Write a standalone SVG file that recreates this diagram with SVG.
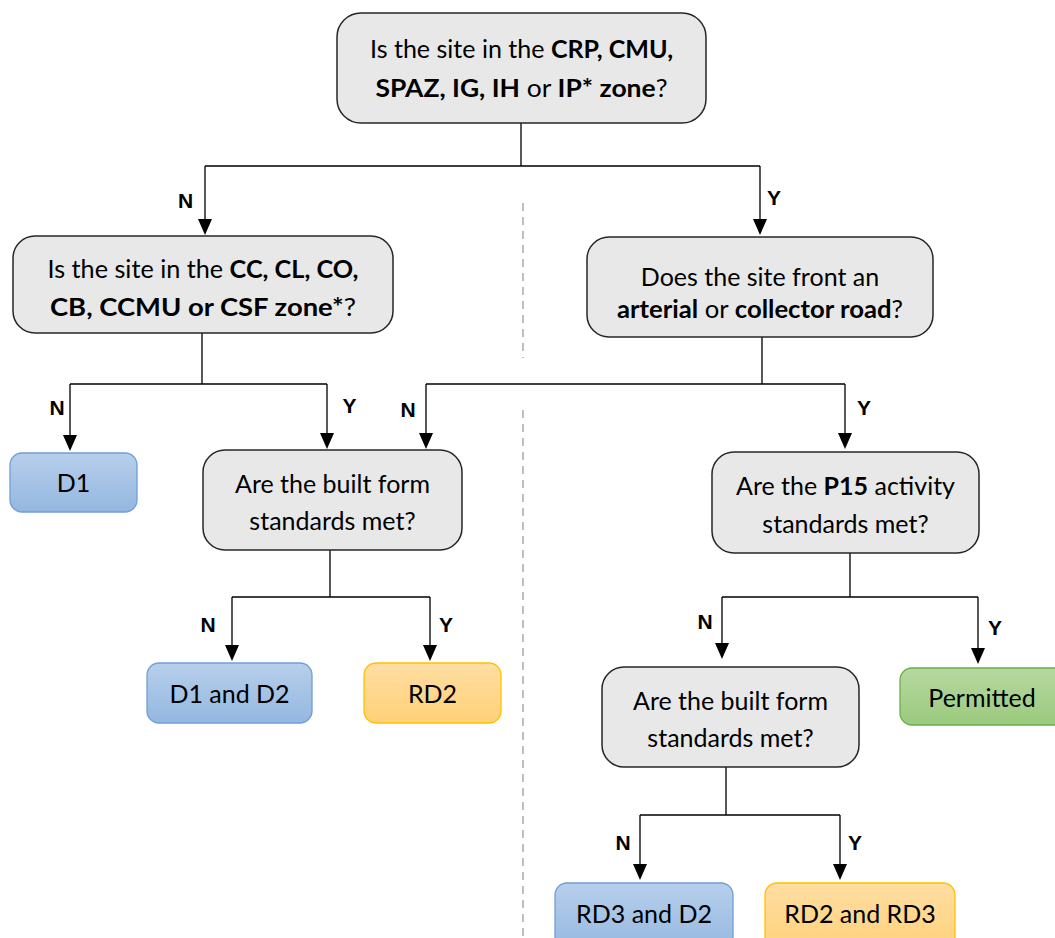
<svg xmlns="http://www.w3.org/2000/svg" width="1055" height="938" viewBox="0 0 1055 938">
<style>
.q{fill:#e8e8e8;stroke:#262626;stroke-width:1.5}
.b{fill:url(#gb);stroke:#6f9fd8;stroke-width:1.3}
.o{fill:url(#go);stroke:#ffc000;stroke-width:1.3}
.g{fill:url(#gg);stroke:#70ad47;stroke-width:1.3}
.t{font-family:Lato,"Open Sans",sans-serif;font-size:25px;fill:#000;text-anchor:middle}
.t tspan.k{font-weight:bold}
.l{font-family:"Liberation Sans",Arial,sans-serif;font-size:21px;font-weight:bold;fill:#000;text-anchor:middle}
.c{fill:none;stroke:#000;stroke-width:1.3}
.d{fill:none;stroke:#bfbfbf;stroke-width:2;stroke-dasharray:8 6}
</style>
<defs>
<linearGradient id="gb" x1="0" y1="0" x2="0" y2="1"><stop offset="0" stop-color="#b7cfeb"/><stop offset="1" stop-color="#94b7e0"/></linearGradient>
<linearGradient id="go" x1="0" y1="0" x2="0" y2="1"><stop offset="0" stop-color="#ffdea3"/><stop offset="1" stop-color="#ffd178"/></linearGradient>
<linearGradient id="gg" x1="0" y1="0" x2="0" y2="1"><stop offset="0" stop-color="#b6d8a0"/><stop offset="1" stop-color="#9bca7e"/></linearGradient>
<path id="tri" d="M-7,0 H7 L0,16 Z" fill="#000"/>
</defs>
<g id="divider">
<line class="d" x1="523" y1="203" x2="523" y2="358"/>
<line class="d" x1="523" y1="410" x2="523" y2="938"/>
</g>
<g id="connectors">
<path class="c" d="M521,123 V166 M205,166 H760"/>
<path class="c" d="M202,333 V384 M70,384 H327"/>
<path class="c" d="M762,337 V384 M426,384 H845"/>
<path class="c" d="M330,550 V597 M232,597 H430"/>
<path class="c" d="M850,553 V597 M722,597 H978"/>
<path class="c" d="M726,767 V815 M640,815 H840"/>
<path class="c" d="M205,166 V222 M760,166 V222 M70,384 V438 M327,384 V436 M426,384 V436 M845,384 V436 M232,597 V648 M430,597 V648 M722,597 V646 M978,597 V651 M640,815 V867 M840,815 V867"/>
<use href="#tri" x="205" y="219"/>
<use href="#tri" x="760" y="219"/>
<use href="#tri" x="70" y="435"/>
<use href="#tri" x="327" y="433"/>
<use href="#tri" x="426" y="433"/>
<use href="#tri" x="845" y="433"/>
<use href="#tri" x="232" y="645"/>
<use href="#tri" x="430" y="645"/>
<use href="#tri" x="722" y="643"/>
<use href="#tri" x="978" y="648"/>
<use href="#tri" x="640" y="864"/>
<use href="#tri" x="840" y="864"/>
<text class="l" x="185.5" y="208">N</text>
<text class="l" x="774" y="205">Y</text>
<text class="l" x="57" y="415">N</text>
<text class="l" x="349.5" y="413">Y</text>
<text class="l" x="408" y="417">N</text>
<text class="l" x="864" y="415">Y</text>
<text class="l" x="208" y="632">N</text>
<text class="l" x="446" y="632">Y</text>
<text class="l" x="705" y="629">N</text>
<text class="l" x="995" y="635">Y</text>
<text class="l" x="623" y="850">N</text>
<text class="l" x="855" y="850">Y</text>
</g>
<g id="q1">
<rect class="q" x="337" y="13" width="369" height="110" rx="24"/>
<text class="t" x="521.5" y="58" textLength="303" lengthAdjust="spacingAndGlyphs">Is the site in the <tspan class="k">CRP, CMU,</tspan></text>
<text class="t" x="521.5" y="97" textLength="292" lengthAdjust="spacingAndGlyphs"><tspan class="k">SPAZ, IG, IH</tspan> or <tspan class="k">IP* zone</tspan>?</text>
</g>
<g id="q2">
<rect class="q" x="13" y="236" width="380" height="97" rx="22"/>
<text class="t" x="203" y="278" textLength="311" lengthAdjust="spacingAndGlyphs">Is the site in the <tspan class="k">CC, CL, CO,</tspan></text>
<text class="t" x="203" y="316" textLength="306" lengthAdjust="spacingAndGlyphs"><tspan class="k">CB, CCMU or CSF zone*</tspan>?</text>
</g>
<g id="q3">
<rect class="q" x="587" y="237" width="346" height="100" rx="22"/>
<text class="t" x="760" y="286">Does the site front an</text>
<text class="t" x="760" y="318" textLength="286" lengthAdjust="spacingAndGlyphs"><tspan class="k">arterial</tspan> or <tspan class="k">collector road</tspan>?</text>
</g>
<g id="d1">
<rect class="b" x="10" y="453" width="127" height="59" rx="12"/>
<text class="t" x="73.5" y="492">D1</text>
</g>
<g id="q4">
<rect class="q" x="203" y="450" width="259" height="100" rx="22"/>
<text class="t" x="332.5" y="493">Are the built form</text>
<text class="t" x="332.5" y="530">standards met?</text>
</g>
<g id="q5">
<rect class="q" x="712" y="452" width="267" height="101" rx="22"/>
<text class="t" x="845.5" y="495">Are the <tspan class="k">P15</tspan> activity</text>
<text class="t" x="845.5" y="533">standards met?</text>
</g>
<g id="d1d2">
<rect class="b" x="147" y="663" width="165" height="60" rx="12"/>
<text class="t" x="229.5" y="703">D1 and D2</text>
</g>
<g id="rd2">
<rect class="o" x="364" y="663" width="137" height="60" rx="12"/>
<text class="t" x="432.5" y="703">RD2</text>
</g>
<g id="permitted">
<rect class="g" x="900" y="668" width="170" height="57" rx="12"/>
<text class="t" x="982" y="707">Permitted</text>
</g>
<g id="q6">
<rect class="q" x="602" y="667" width="257" height="100" rx="22"/>
<text class="t" x="730.5" y="710">Are the built form</text>
<text class="t" x="730.5" y="747">standards met?</text>
</g>
<g id="rd3d2">
<rect class="b" x="555" y="883" width="178" height="70" rx="12"/>
<text class="t" x="644" y="923">RD3 and D2</text>
</g>
<g id="rd2rd3">
<rect class="o" x="765" y="883" width="190" height="70" rx="12"/>
<text class="t" x="860" y="923">RD2 and RD3</text>
</g>
</svg>
